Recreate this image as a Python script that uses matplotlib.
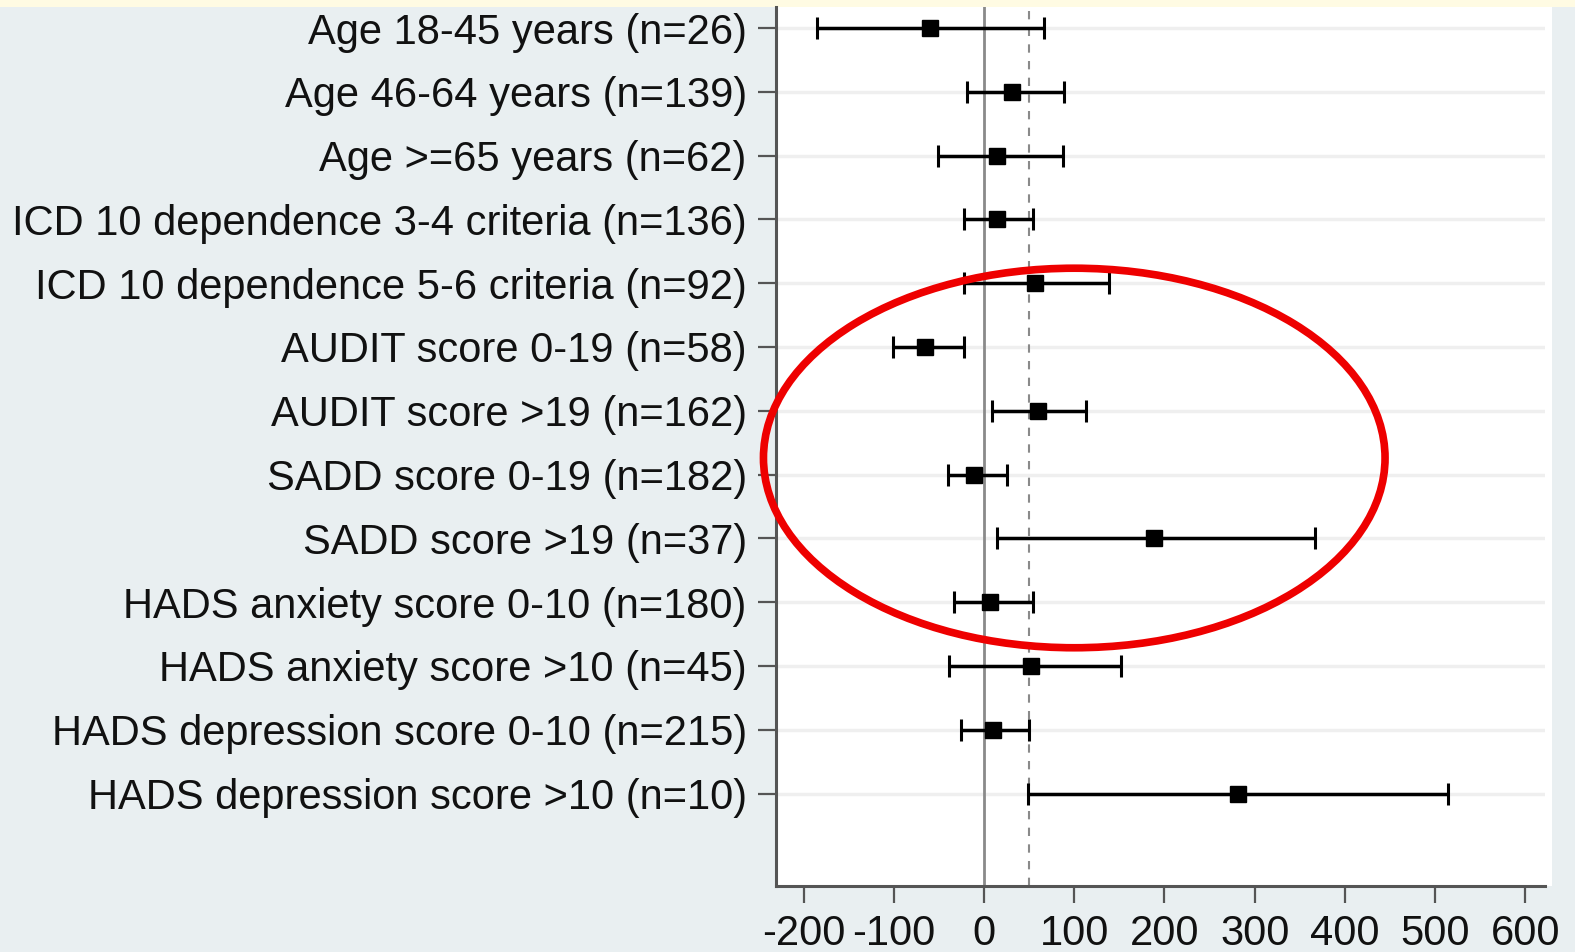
import numpy as np
import matplotlib.pyplot as plt
from matplotlib.patches import Ellipse, Rectangle

# data
labels = ["Age 18-45 years (n=26)", "Age 46-64 years (n=139)", "Age >=65 years (n=62)",
          "ICD 10 dependence 3-4 criteria (n=136)", "ICD 10 dependence 5-6 criteria (n=92)",
          "AUDIT score 0-19 (n=58)", "AUDIT score >19 (n=162)", "SADD score 0-19 (n=182)",
          "SADD score >19 (n=37)", "HADS anxiety score 0-10 (n=180)", "HADS anxiety score >10 (n=45)",
          "HADS depression score 0-10 (n=215)", "HADS depression score >10 (n=10)"]
est = [-60, 31, 14, 14, 56, -65, 60, -11, 188, 7, 52, 10, 281]
lower = [-185, -19, -51, -22, -22, -101, 9, -40, 14, -33, -39, -26, 49]
upper = [67, 89, 87, 54, 138, -22, 113, 25, 367, 54, 152, 50, 514]
overall = 50
xticks = [-200, -100, 0, 100, 200, 300, 400, 500, 600]

plt.rcParams['font.family'] = ['Liberation Sans', 'DejaVu Sans']

W, H = 1575, 952
fig = plt.figure(figsize=(W / 100, H / 100), dpi=100)
fig.patch.set_facecolor('#e9eff1')
# yellow strip on top and white plot region behind the axes
fig.patches.append(Rectangle((0, 1 - 7 / H), 1, 7 / H, transform=fig.transFigure,
                             facecolor='#fffbe3', edgecolor='none', zorder=-10))
fig.patches.append(Rectangle((776 / W, 1 - 886 / H), (1552 - 776) / W, (886 - 7) / H,
                             transform=fig.transFigure, facecolor='white', edgecolor='none', zorder=-10))

ax = fig.add_axes([776 / W, 1 - 886 / H, (1545 - 776) / W, (886 - 7) / H])
ax.set_facecolor('white')

y = np.arange(len(labels))
for yi in y:
    ax.axhline(yi, color='#efefef', lw=2.5, zorder=0)

ax.axvline(0, color='#8a8a8a', lw=2, zorder=1)
ax.axvline(overall, color='#8a8a8a', lw=1.5, ls=(0, (4, 4)), zorder=1)

est = np.array(est)
err = [est - np.array(lower), np.array(upper) - est]
ax.errorbar(est, y, xerr=err, fmt='s', color='black', ms=11.5, lw=2.5,
            capsize=8, capthick=2.2, zorder=3)

ax.set_xlim(-230.6, 621.8)
ax.set_ylim(13.45, -0.33)
ax.set_yticks(y)
ax.set_yticklabels(labels, fontsize=30, color='#111111')
ax.set_xticks(xticks)
ax.set_xticklabels([str(t) for t in xticks], fontsize=30, color='#111111')
ax.tick_params(axis='y', length=13, width=1.6, color='#555555', pad=8)
ax.tick_params(axis='x', length=12, width=1.6, color='#555555', pad=8)
for s in ['top', 'right']:
    ax.spines[s].set_visible(False)
for s in ['left', 'bottom']:
    ax.spines[s].set_color('#555555')
    ax.spines[s].set_linewidth(2.2)

# red highlight ellipse
ax.add_patch(Ellipse((100, 6.74), 689, 5.95, facecolor='none', edgecolor='#ee0000',
                     lw=5.5, clip_on=False, zorder=5))

fig.savefig('out.png', dpi=100, facecolor=fig.get_facecolor())
